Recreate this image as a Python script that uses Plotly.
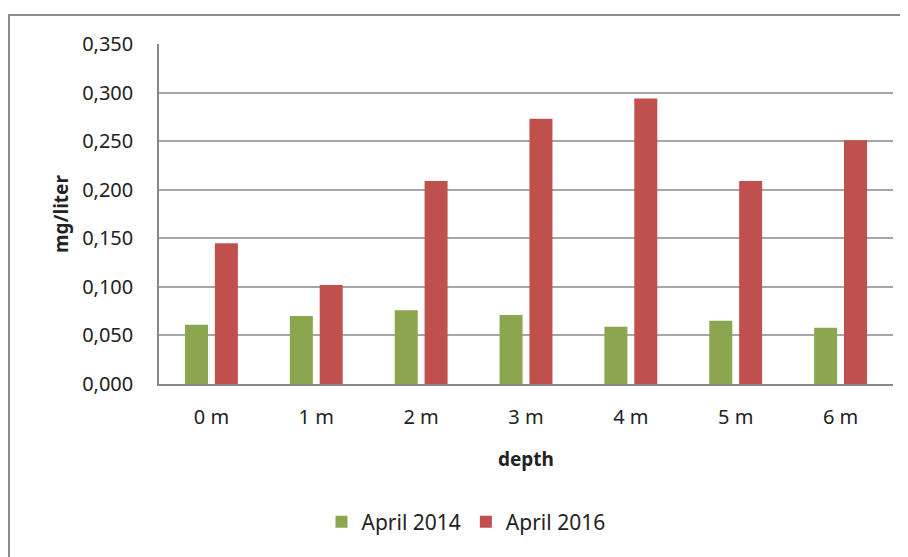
import plotly.graph_objects as go

categories = ["0 m", "1 m", "2 m", "3 m", "4 m", "5 m", "6 m"]
april_2014 = [0.061, 0.070, 0.076, 0.071, 0.059, 0.065, 0.058]
april_2016 = [0.145, 0.102, 0.209, 0.273, 0.294, 0.209, 0.251]
y_ticks = [0, 0.05, 0.10, 0.15, 0.20, 0.25, 0.30, 0.35]

font = "Noto Sans"
fig = go.Figure()
fig.add_trace(go.Bar(x=categories, y=april_2014, name="April 2014",
                     marker=dict(color="#8BA64E", line=dict(width=0))))
fig.add_trace(go.Bar(x=categories, y=april_2016, name="April 2016",
                     marker=dict(color="#C0504D", line=dict(width=0))))

# the page body adds an 8px offset; work in screen coordinates and shift
OFF = 8
W, H = 908 - OFF, 557 - OFF
L, R, T, B = 159 - OFF, 15, 44 - OFF, 557 - 384
pw, ph = W - L - R, H - T - B

def px(x):
    return (x - OFF - L) / pw

def py(y):
    return (H - B - (y - OFF)) / ph

fig.update_layout(
    width=W, height=H,
    margin=dict(l=L, r=R, t=T, b=B),
    paper_bgcolor="white", plot_bgcolor="white",
    separators=",.",
    barmode="group", bargap=0.43, bargroupgap=0.23,
    font=dict(family=font, size=20, color="#222222"),
    showlegend=True,
    legend=dict(orientation="h", x=px(466), xanchor="center", y=py(522), yanchor="middle",
                font=dict(family=font, size=21, color="#222222"),
                traceorder="normal"),
    xaxis=dict(showline=True, linecolor="#888888", linewidth=1.5, ticks="",
               tickfont=dict(family=font, size=20), showgrid=False, ticklabelstandoff=14,
               title=dict(text="<b>depth</b>", font=dict(family=font, size=19), standoff=24)),
    yaxis=dict(range=[0, 0.35], tickvals=y_ticks, tickformat=".3f",
               showline=True, linecolor="#888888", linewidth=1.5,
               showgrid=True, gridcolor="#A6A6A6", gridwidth=1.5, zeroline=False,
               tickfont=dict(family=font, size=20), ticks="", ticklabelstandoff=20,
               title=dict(text="<b>mg/liter</b>", font=dict(family=font, size=19), standoff=8)),
    shapes=[
        dict(type="line", xref="paper", yref="paper", x0=px(8), x1=px(920), y0=py(15), y1=py(15),
             line=dict(color="#8C8C8C", width=2)),
        dict(type="line", xref="paper", yref="paper", x0=px(9), x1=px(9), y0=py(14), y1=py(570),
             line=dict(color="#8C8C8C", width=2)),
    ],
)

fig.write_html("out.html")
